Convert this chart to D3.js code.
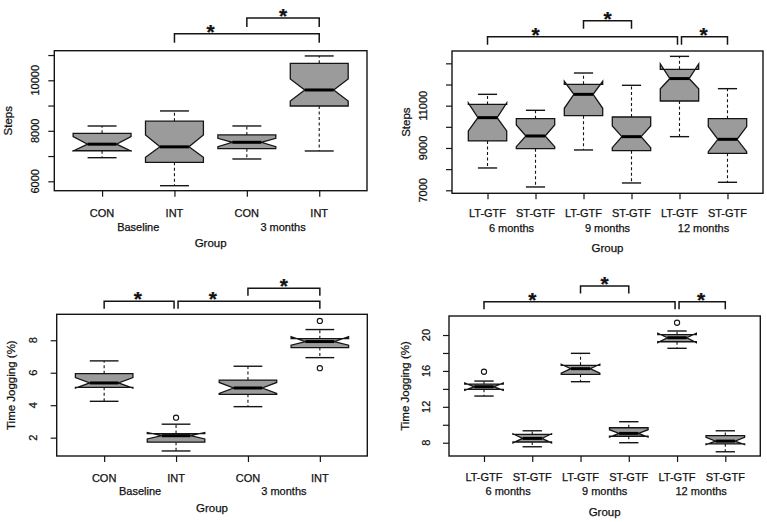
<!DOCTYPE html>
<html>
<head>
<meta charset="utf-8">
<script src="https://cdn.jsdelivr.net/npm/d3@7"></script>
<style>
body { margin: 0; background: #fff; }
svg text { font-family: "Liberation Sans", Arial, sans-serif; fill: #111; stroke: #111; stroke-width: 0.25; }
</style>
</head>
<body>
<svg id="chart" width="767" height="522"></svg>
<script>
// ---- top left: steps, baseline vs 3 months
var stepsBaseLabels = ["CON", "INT", "CON", "INT"];
var stepsBasePeriods = ["Baseline", "3 months"];
var stepsBaseLow     = [6935, 5826, 6884, 7201];
var stepsBaseQ1      = [7210, 6752, 7294, 8983];
var stepsBaseNotchLo = [7200, 6950, 7373, 9182];
var stepsBaseMed     = [7470, 7365, 7545, 9617];
var stepsBaseNotchHi = [7770, 7834, 7703, 10053];
var stepsBaseQ3      = [7900, 8380, 7835, 10673];
var stepsBaseHigh    = [8190, 8786, 8191, 10964];
var stepsBaseOut     = [[], [], [], []];
var stepsBaseRange   = [5628, 11172];
var stepsBaseTicks   = [6000, 7000, 8000, 9000, 10000, 11000];
var stepsBaseTickLabels = ["6000", "", "8000", "", "10000", ""];
var stepsBaseBrackets = [[2, 4, 0, 2.5], [3, 4, 1, 3.5]];

// ---- top right: steps, LT-GTF vs ST-GTF
var stepsGtfLabels = ["LT-GTF", "ST-GTF", "LT-GTF", "ST-GTF", "LT-GTF", "ST-GTF"];
var stepsGtfPeriods = ["6 months", "9 months", "12 months"];
var stepsGtfLow     = [8055, 7157, 8906, 7346, 9535, 7378];
var stepsGtfQ1      = [9331, 8969, 10528, 8874, 11220, 8748];
var stepsGtfNotchLo = [9803, 9063, 10874, 9016, 11800, 8827];
var stepsGtfMed     = [10433, 9567, 11535, 9535, 12280, 9409];
var stepsGtfNotchHi = [11130, 10087, 12150, 10039, 12968, 10008];
var stepsGtfQ3      = [11060, 10386, 12008, 10465, 12717, 10386];
var stepsGtfHigh    = [11535, 10780, 12543, 11961, 13330, 11803];
var stepsGtfOut     = [[], [], [], [], [], []];
var stepsGtfRange   = [6858, 13583];
var stepsGtfTicks   = [7000, 8000, 9000, 10000, 11000, 12000, 13000];
var stepsGtfTickLabels = ["7000", "", "9000", "", "11000", "", ""];
var stepsGtfBrackets = [[1, 5, 0, 2], [3, 4, 1, 3.5], [5, 6, 0, 5.5]];

// ---- bottom left: time jogging, baseline vs 3 months
var jogBaseLabels = ["CON", "INT", "CON", "INT"];
var jogBasePeriods = ["Baseline", "3 months"];
var jogBaseLow     = [4.24, 1.18, 3.91, 6.93];
var jogBaseQ1      = [5.10, 1.72, 4.67, 7.55];
var jogBaseNotchLo = [5.06, 1.92, 4.72, 7.70];
var jogBaseMed     = [5.37, 2.12, 5.06, 7.92];
var jogBaseNotchHi = [5.70, 2.32, 5.40, 8.22];
var jogBaseQ3      = [5.94, 2.25, 5.55, 8.10];
var jogBaseHigh    = [6.73, 2.83, 6.40, 8.66];
var jogBaseOut     = [[], [3.23], [], [9.19, 6.28]];
var jogBaseRange   = [0.87, 9.60];
var jogBaseTicks   = [2, 4, 6, 8];
var jogBaseTickLabels = ["2", "4", "6", "8"];
var jogBaseBrackets = [[1, 2, 0, 1.47], [2, 4, 0, 2.51], [3, 4, 1, 3.5]];

// ---- bottom right: time jogging, LT-GTF vs ST-GTF
var jogGtfLabels = ["LT-GTF", "ST-GTF", "LT-GTF", "ST-GTF", "LT-GTF", "ST-GTF"];
var jogGtfPeriods = ["6 months", "9 months", "12 months"];
var jogGtfLow     = [13.20, 7.55, 14.80, 8.00, 18.52, 6.99];
var jogGtfQ1      = [13.95, 8.08, 15.62, 8.72, 19.25, 7.88];
var jogGtfNotchLo = [13.83, 7.98, 15.75, 8.62, 19.15, 7.80];
var jogGtfMed     = [14.24, 8.48, 16.25, 9.04, 19.70, 8.18];
var jogGtfNotchHi = [14.65, 9.00, 16.75, 9.45, 20.20, 8.60];
var jogGtfQ3      = [14.52, 8.92, 16.62, 9.67, 20.05, 8.80];
var jogGtfHigh    = [14.87, 9.33, 17.96, 10.34, 20.45, 9.33];
var jogGtfOut     = [[15.91], [], [], [], [21.37], []];
var jogGtfRange   = [6.52, 22.12];
var jogGtfTicks   = [8, 10, 12, 14, 16, 18, 20];
var jogGtfTickLabels = ["8", "", "12", "", "16", "", "20"];
var jogGtfBrackets = [[1, 5, 0, 2], [3, 4, 1, 3.5], [5, 6, 0, 5.5]];

var svg = d3.select("#chart");
var INK = "#151515";
var FILL = "#9b9b9b";

function drawPanel(d, L) {
    var g = svg.append("g");
    var n = d.labels.length;
    var x = d3.scaleLinear().domain([1 - L.pad, n + L.pad]).range([L.left, L.right]);
    var y = d3.scaleLinear().domain(d.range).range([L.bottom, L.top]);
    var hw = (x(2) - x(1)) * 0.4;   // half box width
    var nw = hw * 0.5;              // notch depth

    // y axis
    var yAxis = g.append("g")
        .attr("transform", "translate(" + L.left + ",0)")
        .call(d3.axisLeft(y).tickValues(d.ticks).tickSize(6).tickFormat(""));
    yAxis.select(".domain").remove();
    yAxis.selectAll("line").attr("stroke", INK).attr("stroke-width", 1.2);
    g.selectAll(".ytl").data(d.ticks).enter().append("text")
        .attr("transform", function(t) { return "translate(" + (L.left + L.ytlx) + "," + y(t) + ") rotate(-90)"; })
        .attr("text-anchor", "middle")
        .attr("dy", "0.35em")
        .attr("font-size", 11)
        .text(function(t, i) { return d.tickLabels[i]; });

    // x axis
    var pos = d3.range(1, n + 1);
    var xAxis = g.append("g")
        .attr("transform", "translate(0," + L.bottom + ")")
        .call(d3.axisBottom(x).tickValues(pos).tickSize(6).tickFormat(""));
    xAxis.select(".domain").remove();
    xAxis.selectAll("line").attr("stroke", INK).attr("stroke-width", 1.2);
    g.selectAll(".xtl").data(d.labels).enter().append("text")
        .attr("x", function(t, i) { return x(i + 1); })
        .attr("y", L.bottom + L.xtly)
        .attr("text-anchor", "middle")
        .attr("font-size", 11)
        .text(function(t) { return t; });
    g.selectAll(".per").data(d.periods).enter().append("text")
        .attr("x", function(t, i) { return x(2 * i + 1.5); })
        .attr("y", L.bottom + L.pery)
        .attr("text-anchor", "middle")
        .attr("font-size", 11)
        .text(function(t) { return t; });
    g.append("text")
        .attr("x", (L.left + L.right) / 2)
        .attr("y", L.bottom + L.groupy)
        .attr("text-anchor", "middle")
        .attr("font-size", 11.5)
        .text("Group");
    g.append("text")
        .attr("transform", "translate(" + (L.left + L.ylabx) + "," + (L.top + L.bottom) / 2 + ") rotate(-90)")
        .attr("text-anchor", "middle")
        .attr("dy", "0.35em")
        .attr("font-size", 11.5)
        .text(d.ylab);

    // boxes
    for (var i = 0; i < n; i++) {
        var cx = x(i + 1);
        var bg = g.append("g");
        bg.append("line").attr("x1", cx).attr("x2", cx)
            .attr("y1", y(d.q3[i])).attr("y2", y(d.high[i]))
            .attr("stroke", INK).attr("stroke-width", 1.1).attr("stroke-dasharray", "3,2.5");
        bg.append("line").attr("x1", cx).attr("x2", cx)
            .attr("y1", y(d.q1[i])).attr("y2", y(d.low[i]))
            .attr("stroke", INK).attr("stroke-width", 1.1).attr("stroke-dasharray", "3,2.5");
        [d.high[i], d.low[i]].forEach(function(v) {
            bg.append("line").attr("x1", cx - hw / 2).attr("x2", cx + hw / 2)
                .attr("y1", y(v)).attr("y2", y(v))
                .attr("stroke", INK).attr("stroke-width", 1.4);
        });
        var pts = [
            [cx - hw, y(d.q1[i])], [cx - hw, y(d.notchLo[i])], [cx - nw, y(d.med[i])],
            [cx - hw, y(d.notchHi[i])], [cx - hw, y(d.q3[i])], [cx + hw, y(d.q3[i])],
            [cx + hw, y(d.notchHi[i])], [cx + nw, y(d.med[i])], [cx + hw, y(d.notchLo[i])],
            [cx + hw, y(d.q1[i])]
        ];
        bg.append("path")
            .attr("d", d3.line()(pts) + "Z")
            .attr("fill", FILL).attr("stroke", INK).attr("stroke-width", 1.3)
            .attr("stroke-linejoin", "miter");
        bg.append("line").attr("x1", cx - nw).attr("x2", cx + nw)
            .attr("y1", y(d.med[i])).attr("y2", y(d.med[i]))
            .attr("stroke", "#000").attr("stroke-width", 3);
        d.out[i].forEach(function(v) {
            bg.append("circle").attr("cx", cx).attr("cy", y(v)).attr("r", 2.6)
                .attr("fill", "none").attr("stroke", INK).attr("stroke-width", 1.1);
        });
    }

    // frame
    g.append("rect")
        .attr("x", L.left).attr("y", L.top)
        .attr("width", L.right - L.left).attr("height", L.bottom - L.top)
        .attr("fill", "none").attr("stroke", INK).attr("stroke-width", 1.4);

    // significance brackets
    d.brackets.forEach(function(b) {
        var x1 = x(b[0]), x2 = x(b[1]);
        d.brackets.forEach(function(o) {
            if (o !== b && o[2] === b[2] && o[1] === b[0]) x1 += 2;
            if (o !== b && o[2] === b[2] && o[0] === b[1]) x2 -= 2;
        });
        var by = L.top - L.brGap - b[2] * L.brStep;
        g.append("path")
            .attr("d", "M" + x1 + "," + (by + L.brDrop) + "V" + by + "H" + x2 + "V" + (by + L.brDrop))
            .attr("fill", "none").attr("stroke", INK).attr("stroke-width", 1.5);
        g.append("text")
            .attr("x", x(b[3]))
            .attr("y", by + 5)
            .attr("text-anchor", "middle")
            .attr("font-size", 21)
            .attr("font-weight", "bold")
            .text("*");
    });
}

function pack(prefix, ylab) {
    var w = window;
    return {
        labels: w[prefix + "Labels"], periods: w[prefix + "Periods"],
        low: w[prefix + "Low"], q1: w[prefix + "Q1"], notchLo: w[prefix + "NotchLo"],
        med: w[prefix + "Med"], notchHi: w[prefix + "NotchHi"], q3: w[prefix + "Q3"],
        high: w[prefix + "High"], out: w[prefix + "Out"], range: w[prefix + "Range"],
        ticks: w[prefix + "Ticks"], tickLabels: w[prefix + "TickLabels"],
        brackets: w[prefix + "Brackets"], ylab: ylab
    };
}

drawPanel(pack("stepsBase", "Steps"),
    {left: 54.3, right: 367, top: 50.7, bottom: 190.7, pad: 0.66, ytlx: -19.3, ylabx: -46.3,
     xtly: 26.3, pery: 40, groupy: 56, brGap: 17, brStep: 15.7, brDrop: 9});
drawPanel(pack("stepsGtf", "Steps"),
    {left: 452, right: 763, top: 51, bottom: 193.3, pad: 0.74, ytlx: -29, ylabx: -46.3,
     xtly: 24, pery: 38.4, groupy: 59, brGap: 14.3, brStep: 16, brDrop: 8});
drawPanel(pack("jogBase", "Time Jogging (%)"),
    {left: 56.7, right: 367.3, top: 314.3, bottom: 456, pad: 0.66, ytlx: -23.4, ylabx: -45.7,
     xtly: 26.3, pery: 39, groupy: 55.7, brGap: 13, brStep: 13, brDrop: 7.4});
drawPanel(pack("jogGtf", "Time Jogging (%)"),
    {left: 449, right: 760.3, top: 316, bottom: 456, pad: 0.725, ytlx: -23.3, ylabx: -44.3,
     xtly: 24.7, pery: 39, groupy: 60, brGap: 14.3, brStep: 15.7, brDrop: 7.6});
</script>
</body>
</html>
